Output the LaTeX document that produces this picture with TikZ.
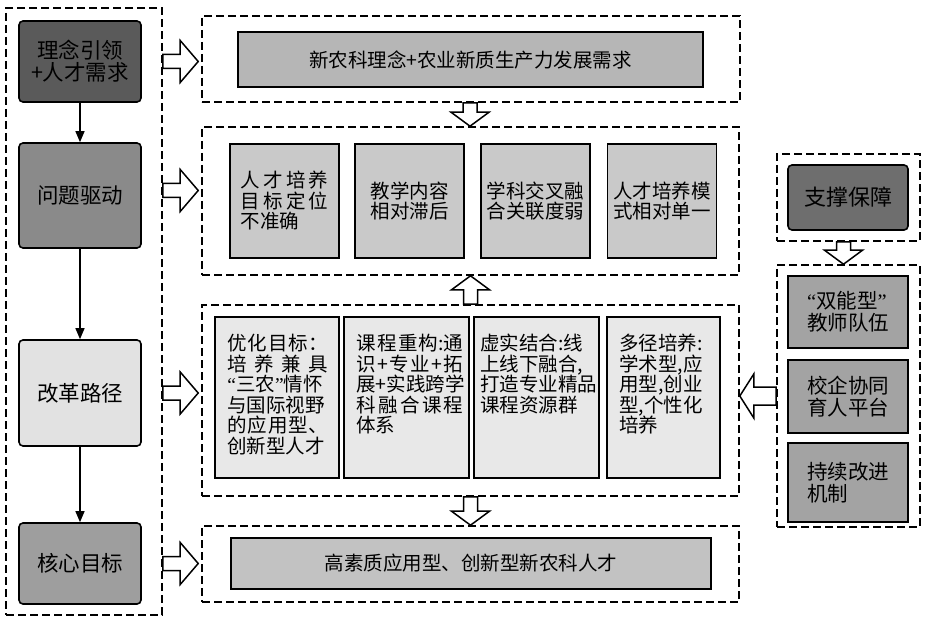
\documentclass[tikz,border=0pt]{standalone}
\usepackage{fontspec}
\setmainfont{Noto Sans CJK SC}
\newfontfamily\latq{Liberation Serif}
\usetikzlibrary{calc,arrows.meta}
\definecolor{cLa}{HTML}{5A5A5A}
\definecolor{cLb}{HTML}{8A8A8A}
\definecolor{cLc}{HTML}{E2E2E2}
\definecolor{cLd}{HTML}{9E9E9E}
\definecolor{cTop}{HTML}{B6B6B6}
\definecolor{cRowB}{HTML}{C9C9C9}
\definecolor{cRowC}{HTML}{E8E8E8}
\definecolor{cBot}{HTML}{C2C2C2}
\definecolor{cSup}{HTML}{6E6E6E}
\definecolor{cSupB}{HTML}{A3A3A3}
\newcommand\rarr[2]{\draw[hollow] let \p1=#1, \p2=#2 in
  (\x1,\y1+7pt) -- (\x2-18pt,\y1+7pt) -- (\x2-18pt,\y1+21pt) -- (\x2,\y1)
  -- (\x2-18pt,\y1-21pt) -- (\x2-18pt,\y1-7pt) -- (\x1,\y1-7pt) -- cycle;}
\newcommand\larr[2]{\draw[hollow] let \p1=#1, \p2=#2 in
  (\x1,\y1+9pt) -- (\x2+14pt,\y1+9pt) -- (\x2+14pt,\y1+22pt) -- (\x2,\y1)
  -- (\x2+14pt,\y1-22pt) -- (\x2+14pt,\y1-9pt) -- (\x1,\y1-9pt) -- cycle;}
\newcommand\darr[2]{\draw[hollow] let \p1=#1, \p2=#2 in
  (\x1-7pt,\y1) -- (\x1-7pt,\y2+14pt) -- (\x1-19pt,\y2+14pt) -- (\x1,\y2)
  -- (\x1+19pt,\y2+14pt) -- (\x1+7pt,\y2+14pt) -- (\x1+7pt,\y1) -- cycle;}
\newcommand\uarr[2]{\draw[hollow] let \p1=#1, \p2=#2 in
  (\x1-7pt,\y1) -- (\x1-7pt,\y2-14pt) -- (\x1-19pt,\y2-14pt) -- (\x1,\y2)
  -- (\x1+19pt,\y2-14pt) -- (\x1+7pt,\y2-14pt) -- (\x1+7pt,\y1) -- cycle;}
\newcommand\jf{\hfill}
\newcommand\oqx{{\latq “}}
\newcommand\cqx{{\latq ”}}
\begin{document}
\begin{tikzpicture}[x=1pt,y=-1pt,
  container/.style={draw, dash pattern=on 8pt off 4pt, line width=1.6pt, inner sep=0pt},
  leftbox/.style={draw, line width=1.6pt, rounded corners=4pt, inner sep=0pt,
    minimum width=122pt, font=\fontsize{21.5}{22}\selectfont, align=center},
  graybox/.style={draw, line width=1.6pt, inner sep=0pt},
  boxtext/.style={inner sep=0pt, align=left},
  hollow/.style={draw, fill=white, line width=1.5pt, line join=miter},
  flow/.style={-{Triangle[length=11pt,width=9pt]}, line width=1.4pt}]
\useasboundingbox (0,0) rectangle (928,620);

% left column
\node[container, minimum width=156pt, minimum height=607pt] (LC) at (84,311.5) {};
\node[leftbox, fill=cLa, minimum height=81pt] (L1) at (80,61.5) {理念引领\\+人才需求};
\node[leftbox, fill=cLb, minimum height=105pt] (L2) at (80,195.5) {问题驱动};
\node[leftbox, fill=cLc, minimum height=106pt] (L3) at (80,393) {改革路径};
\node[leftbox, fill=cLd, minimum height=81pt] (L4) at (80,563.5) {核心目标};
\draw[flow] (L1) -- (L2);
\draw[flow] (L2) -- (L3);
\draw[flow] (L3) -- (L4);

% top container
\node[container, minimum width=538pt, minimum height=86pt] (TC) at (471,59) {};
\node[graybox, fill=cTop, minimum width=465pt, minimum height=55pt,
  font=\fontsize{19.5}{20}\selectfont] (TI) at (470.5,59.5) {新农科理念+农业新质生产力发展需求};

% problems row
\node[container, minimum width=537pt, minimum height=148pt] (C2) at (470.5,201) {};
\begin{scope}[every node/.style={graybox, fill=cRowB, minimum width=109pt, minimum height=114pt,
  font=\fontsize{19.5}{20.5}\selectfont, align=left}]
\node (P1) at (284.5,201) {\makebox[88pt][s]{人\jf 才\jf 培\jf 养}\\\makebox[88pt][s]{目\jf 标\jf 定\jf 位}\\不准确};
\node (P2) at (409.5,201) {教学内容\\相对滞后};
\node (P3) at (535.5,201) {学科交叉融\\合关联度弱};
\node (P4) at (662,201) {人才培养模\\式相对单一};
\end{scope}

% reform row
\node[container, minimum width=537pt, minimum height=191pt] (C3) at (470.5,400.5) {};
\node[graybox, fill=cRowC, minimum width=124pt, minimum height=161pt] (Q1) at (277,397.5) {};
\node[graybox, fill=cRowC, minimum width=125pt, minimum height=161pt] (Q2) at (406.5,397.5) {};
\node[graybox, fill=cRowC, minimum width=125pt, minimum height=161pt] (Q3) at (536.5,397.5) {};
\node[graybox, fill=cRowC, minimum width=113pt, minimum height=161pt] (Q4) at (663.5,397.5) {};
\begin{scope}[every node/.style={boxtext, font=\fontsize{19.5}{20.5}\selectfont, anchor=north west}]
\node (Q1t) at ([xshift=13pt,yshift=-18pt]Q1.north west)
 {\makebox[101pt][s]{优\jf 化\jf 目\jf 标\jf ：}\\
  \makebox[101pt][s]{培\jf 养\jf 兼\jf 具}\\
  \oqx 三农\cqx 情怀\\
  与国际视野\\
  \makebox[101pt][s]{的\jf 应\jf 用\jf 型\jf 、}\\
  创新型人才};
\node (Q2t) at ([xshift=13pt,yshift=-18pt]Q2.north west)
 {\makebox[107pt][s]{课\jf 程\jf 重\jf 构:通}\\
  \makebox[107pt][s]{识\jf +\jf 专\jf 业\jf +\jf 拓}\\
  \makebox[107pt][s]{展+实践跨学}\\
  \makebox[107pt][s]{科\jf 融\jf 合\jf 课\jf 程}\\
  体系};
\node (Q3t) at ([xshift=7pt,yshift=-18pt]Q3.north west)
 {虚实结合:线\\
  上线下融合,\\
  打造专业精品\\
  课程资源群};
\node (Q4t) at ([xshift=13pt,yshift=-18pt]Q4.north west)
 {多径培养:\\
  学术型,应\\
  用型,创业\\
  型,个性化\\
  培养};
\end{scope}

% goal row
\node[container, minimum width=537pt, minimum height=76pt] (C4) at (470.5,564) {};
\node[graybox, fill=cBot, minimum width=480pt, minimum height=51pt,
  font=\fontsize{19.5}{20}\selectfont] (BI) at (471,563.5) {高素质应用型、创新型新农科人才};

% support column
\node[container, minimum width=143pt, minimum height=87pt] (RC1) at (848.5,197.5) {};
\node[leftbox, fill=cSup, minimum width=120pt, minimum height=65pt,
  font=\fontsize{22}{23}\selectfont] (R0) at (848,197.5) {支撑保障};
\node[container, minimum width=143pt, minimum height=262pt] (RC2) at (848.5,396) {};
\begin{scope}[every node/.style={graybox, fill=cSupB, minimum width=120pt,
  font=\fontsize{20.5}{22}\selectfont, align=left}]
\node[minimum height=72pt] (R1) at (848,312) {\oqx 双能型\cqx\\教师队伍};
\node[minimum height=73pt] (R2) at (848,396.5) {校企协同\\育人平台};
\node[minimum height=79pt] (R3) at (848,482.5) {持续改进\\机制};
\end{scope}

% hollow arrows
\rarr{(LC.east |- L1.center)}{([xshift=-3pt]TC.west |- L1.center)}
\rarr{([yshift=5pt]LC.east |- L2.center)}{([xshift=-3pt,yshift=5pt]C2.west |- L2.center)}
\rarr{(LC.east |- L3.center)}{([xshift=-3pt]C3.west |- L3.center)}
\rarr{(LC.east |- L4.center)}{([xshift=-3pt]C4.west |- L4.center)}
\darr{([xshift=-1pt]TC.south)}{(C2.north)}
\uarr{(C3.north)}{(C2.south)}
\darr{(C3.south)}{(C4.north)}
\darr{([xshift=-5pt]RC1.south)}{([xshift=-5pt]RC2.north)}
\larr{(RC2.west)}{(C3.east |- RC2.west)}
\end{tikzpicture}
\end{document}
